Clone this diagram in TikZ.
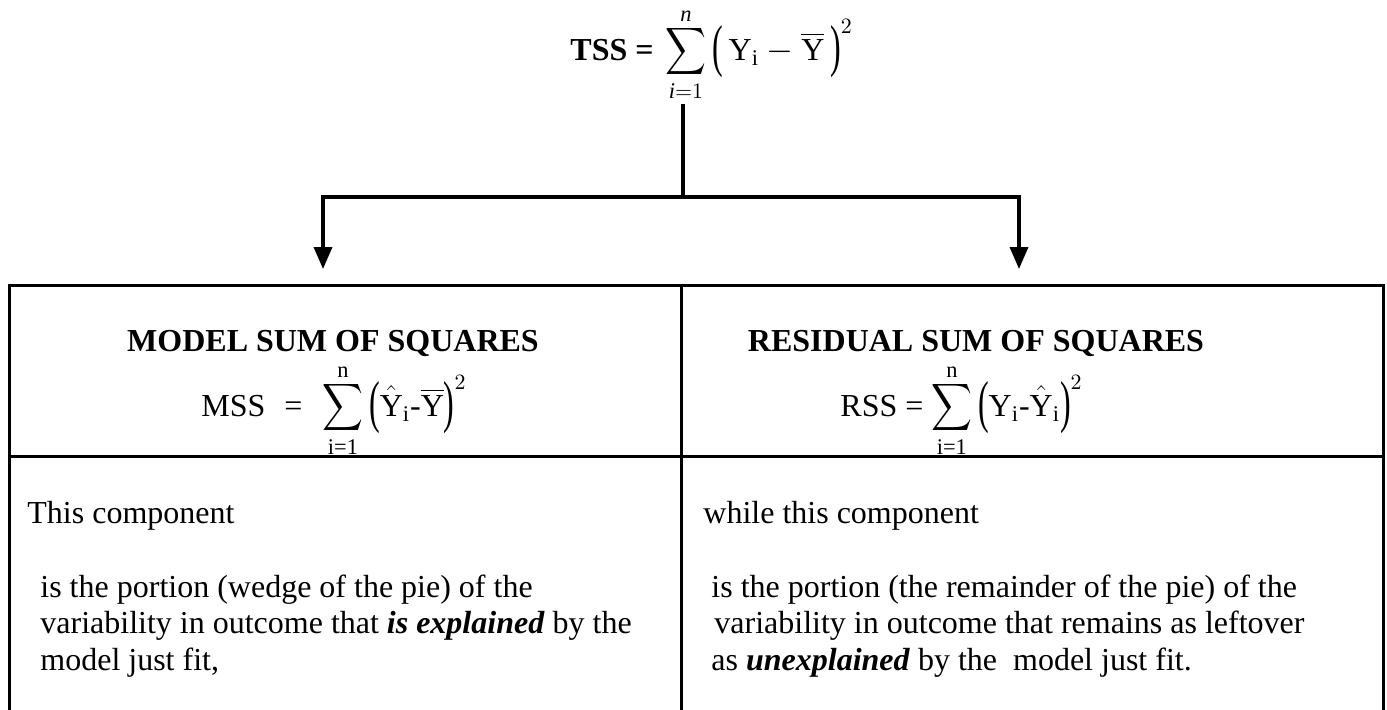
\documentclass[tikz,border=0pt]{standalone}
\usepackage{amsmath}
\usepackage{graphicx}
\usepackage{fontspec}
\setmainfont{Liberation Serif}
\usetikzlibrary{arrows.meta}
\newcommand{\lpar}{\raisebox{-2.6pt}{\scalebox{1}[1.8]{(}}}
\newcommand{\rpar}{\raisebox{-2.6pt}{\scalebox{1}[1.8]{)}}}
\newcommand{\bsum}[2]{\mathop{\scalebox{0.82}[0.95]{$\displaystyle\sum$}}\limits_{\raisebox{0.5pt}[0pt][0pt]{$\scriptstyle #1$}}^{\raisebox{-1.5pt}[0pt][0pt]{$\scriptstyle #2$}}}
\begin{document}
\begin{tikzpicture}[x=0.5pt,y=-0.5pt,
  conn/.style={line width=1.75pt},
  arr/.style={conn,-{Triangle[width=9pt,length=11pt]}},
  border/.style={line width=1.5pt},
  txt/.style={font=\fontsize{16}{19}\selectfont, inner sep=0pt, anchor=base west},
  head/.style={font=\bfseries\fontsize{16}{19}\selectfont, inner sep=0pt, anchor=base},
  frm/.style={font=\fontsize{16}{19}\selectfont, inner sep=0pt, anchor=base west}
]
\useasboundingbox (0,0) rectangle (1387,709);

% top formula
\node[frm] (tss) at (570,60)
  {\textbf{TSS =}\hspace{6pt}$\bsum{\text{\itshape i}=1}{\text{\itshape n}}\lpar\,\text{Y}_{\text{i}} - \overline{\text{Y}}\,\rpar^{2}$};

% connectors
\coordinate (tssfoot) at (683,104);
\coordinate (split) at (683,197);
\coordinate (tipl) at (323,269);
\coordinate (tipr) at (1019,269);
\draw[conn] (tssfoot) -- (split);
\draw[arr] (split) -| (tipl);
\draw[arr] (split) -| (tipr);

% table
\draw[border] (9,715) -- (9,285) -- (1383,285) -- (1383,715);
\draw[border] (681,285) -- (681,715);
\draw[border] (9,456) -- (1383,456);

% headers
\node[head] (mhead) at (333,351) {MODEL SUM OF SQUARES};
\node[head] (rhead) at (976,351) {RESIDUAL SUM OF SQUARES};

\node[frm] (mss) at (201,416)
  {MSS\hspace{9.5pt}=\hspace{10pt}$\bsum{\text{i=1}}{\text{n}}\lpar\hat{\text{Y}}_{\text{i}}\text{-}\overline{\text{Y}}\rpar^{2}$};
\node[frm] (rss) at (840,416)
  {RSS = $\bsum{\text{i=1}}{\text{n}}\lpar\text{Y}_{\text{i}}\text{-}\hat{\text{Y}}_{\text{i}}\rpar^{2}$};

% body left
\node[txt] (l1) at (27,523) {This component};
\node[txt] (l2) at (40,597) {is the portion (wedge of the pie) of the};
\node[txt] (l3) at (40,633) {variability in outcome that \textbf{\textit{is explained}} by the};
\node[txt] (l4) at (40,670) {model just fit,};

% body right
\node[txt] (r1) at (703,523) {while this component};
\node[txt] (r2) at (711,597) {is the portion (the remainder of the pie) of the};
\node[txt] (r3) at (714,633) {variability in outcome that remains as leftover};
\node[txt] (r4) at (711,670) {as \textbf{\textit{unexplained}} by the\ \ model just fit.};
\end{tikzpicture}
\end{document}
